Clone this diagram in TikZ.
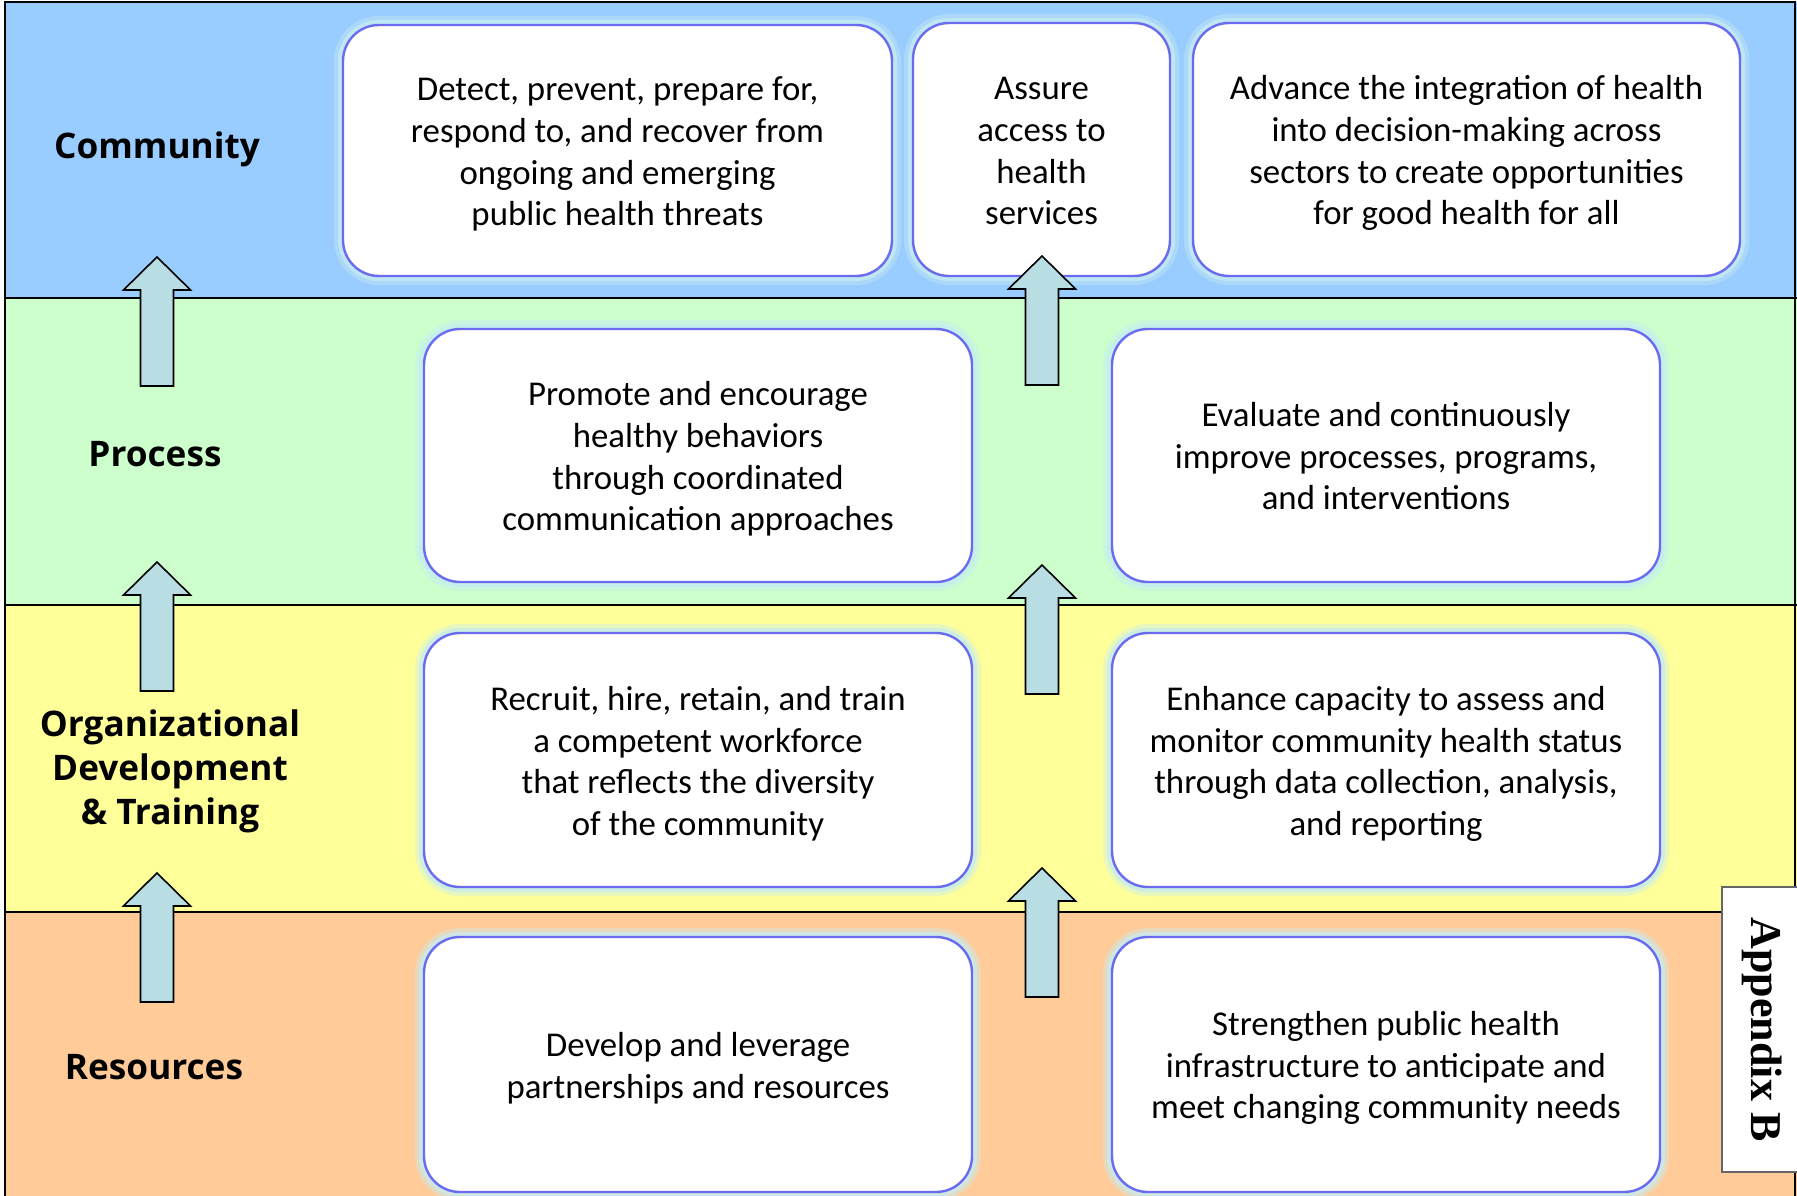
\documentclass[tikz,border=0pt]{standalone}
\usepackage{fontspec}
\setmainfont{Carlito}
\newfontfamily\labelfont{Open Sans}
\newfontfamily\apxfont{Liberation Serif}
\definecolor{bandcommunity}{HTML}{99CCFF}
\definecolor{bandprocess}{HTML}{CCFFCC}
\definecolor{bandorg}{HTML}{FFFF99}
\definecolor{bandres}{HTML}{FFCC99}
\definecolor{arrowfill}{HTML}{B8DEE4}
\definecolor{goalline}{HTML}{6B6BF0}
\definecolor{glow}{HTML}{C6ECF2}
% centred lines with a fixed line pitch, set a little below the box centre
% (the box keeps its natural size, so only the ink moves)
\newcommand{\goaltext}[1]{\raisebox{-4.5pt}[\height][\depth]{\begin{tabular}{@{}c@{}}#1\end{tabular}}}
\begin{document}
\begin{tikzpicture}[x=1pt,y=-1pt,
  goal/.style={draw=goalline, line width=2.4pt, fill=white, rounded corners=36pt,
    inner sep=0pt,
    font=\fontsize{34.8}{41.6}\selectfont,
    preaction={draw=glow, line width=18pt, draw opacity=0.4},
    preaction={draw=glow, line width=10pt, draw opacity=0.75}},
  level/.style={align=center, inner sep=0pt,
    font=\labelfont\bfseries\fontsize{35.2}{44.3}\selectfont},
  blockarrow/.style={draw=black, line width=1.6pt, fill=arrowfill, line join=miter},
  uparrow/.pic={\draw[blockarrow] (-16.5,0) -- (-16.5,-96) -- (-33.5,-96) -- (0,-129)
      -- (33.5,-96) -- (16.5,-96) -- (16.5,0) -- cycle;},
  bandrule/.style={draw=black, line width=1.8pt}]

\useasboundingbox (0,0) rectangle (1797,1196);
\fill[white] (0,0) rectangle (1797,1196);

% four horizontal bands
\fill[bandcommunity] (5,2) rectangle (1797,298);
\fill[bandprocess]   (5,298) rectangle (1797,605);
\fill[bandorg]       (5,605) rectangle (1797,912);
\fill[bandres]       (5,912) rectangle (1797,1196);

% frame and band separators
\draw[line width=1.6pt] (5,1196) -- (5,2) -- (1795,2) -- (1795,1196);
\draw[bandrule] (5,298) -- (1797,298);
\draw[bandrule] (5,605) -- (1797,605);
\draw[bandrule] (5,912) -- (1797,912);

% level labels
\node[level] (lcommunity) at (157,149.5) {Community};
\node[level] (lprocess) at (155,454) {Process};
\node[level] (lorg) at (170,771.5) {Organizational\\Development\\\& Training};
\node[level] (lres) at (154,1067) {Resources};

% goal boxes
\node[goal, minimum width=549pt, minimum height=251pt] (b1) at (617.5,150.5)
  {\goaltext{Detect, prevent, prepare for,\\respond to, and recover from\\ongoing and emerging\\public health threats}};
\node[goal, minimum width=257pt, minimum height=253pt] (b2) at (1041.5,149.5)
  {\goaltext{Assure\\access to\\health\\services}};
\node[goal, minimum width=547pt, minimum height=253pt] (b3) at (1466.5,149.5)
  {\goaltext{Advance the integration of health\\into decision-making across\\sectors to create opportunities\\for good health for all}};

\node[goal, minimum width=548pt, minimum height=253pt] (b4) at (698,455.5)
  {\goaltext{Promote and encourage\\healthy behaviors\\through coordinated\\communication approaches}};
\node[goal, minimum width=548pt, minimum height=253pt] (b5) at (1386,455.5)
  {\goaltext{Evaluate and continuously\\improve processes, programs,\\and interventions}};

\node[goal, minimum width=548pt, minimum height=254pt] (b6) at (698,760)
  {\goaltext{Recruit, hire, retain, and train\\a competent workforce\\that reflects the diversity\\of the community}};
\node[goal, minimum width=548pt, minimum height=254pt] (b7) at (1386,760)
  {\goaltext{Enhance capacity to assess and\\monitor community health status\\through data collection, analysis,\\and reporting}};

\node[goal, minimum width=548pt, minimum height=255pt] (b8) at (698,1064.5)
  {\goaltext{Develop and leverage\\partnerships and resources}};
\node[goal, minimum width=548pt, minimum height=255pt] (b9) at (1386,1064.5)
  {\goaltext{Strengthen public health\\infrastructure to anticipate and\\meet changing community needs}};

% upward block arrows between levels
\pic at (157,386) {uparrow};
\pic at (157,691) {uparrow};
\pic at (157,1002) {uparrow};
\pic at (1042,385) {uparrow};
\pic at (1042,694) {uparrow};
\pic at (1042,997) {uparrow};

% side tab
\node[draw=black!60, line width=1.2pt, fill=white, minimum width=285pt, minimum height=80pt,
  inner sep=0pt, rotate=-90, font=\apxfont\bfseries\fontsize{44}{50}\selectfont]
  (appendix) at (1762,1029.5) {Appendix B};

\end{tikzpicture}
\end{document}
